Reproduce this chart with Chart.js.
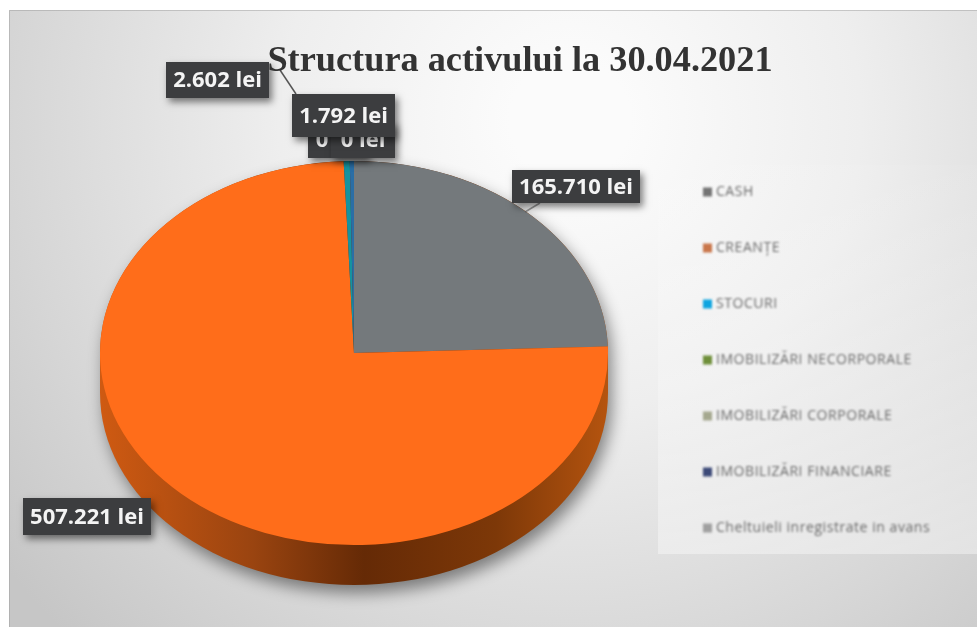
<!DOCTYPE html>
<html lang="ro">
<head>
<meta charset="utf-8">
<title>Structura activului</title>
<script src="https://cdn.jsdelivr.net/npm/chart.js@4"></script>
<style>
  html, body { margin: 0; padding: 0; background: #fff; overflow: hidden; }
  canvas { display: block; }
</style>
</head>
<body>
<canvas id="pieChart" width="977" height="627"></canvas>
<script>
const titleText = "Structura activului la 30.04.2021";
const categories = ["CASH", "CREANȚE", "STOCURI", "IMOBILIZĂRI NECORPORALE", "IMOBILIZĂRI CORPORALE", "IMOBILIZĂRI FINANCIARE", "Cheltuieli inregistrate in avans"];
const values = [165710, 507221, 2602, 0, 0, 1792, 0];
const sliceColors = ["#74797c", "#ff6d1a", "#15939f", "#6f8f3a", "#a5a88f", "#2a6ea6", "#9a9a9a"];
const legendColors = ["#747474", "#c9764a", "#0ea5e0", "#6f8f3a", "#a5a88f", "#3d4a78", "#a0a0a0"];

// y squash of the pie and thickness of the side wall
const squash = 0.756;
const depth = 40;

// label boxes in the order they are stacked
const labelBoxes = [
  { i: 3, x: 308, y: 122, w: 60, h: 36, blur: 0.6 },
  { i: 4, x: 331, y: 122, w: 64, h: 36, blur: 0.6 },
  { i: 5, x: 292, y: 94, w: 103, h: 43, blur: 0.6 },
  { i: 2, x: 166, y: 62, w: 103, h: 36, blur: 0 },
  { i: 0, x: 512, y: 170, w: 128, h: 33, blur: 0.6 },
  { i: 1, x: 23, y: 498, w: 128, h: 37, blur: 0.6 }
];

function formatLei(v) {
  return String(v).replace(/\B(?=(\d{3})+$)/g, ".") + " lei";
}

const backgroundPlugin = {
  id: "backgroundPlugin",
  beforeDraw(chart) {
    const ctx = chart.ctx;
    ctx.save();
    ctx.fillStyle = "#fff";
    ctx.fillRect(0, 0, 977, 627);
    const g = ctx.createRadialGradient(570, 120, 60, 570, 120, 720);
    g.addColorStop(0, "#fbfbfb");
    g.addColorStop(0.35, "#eeeeee");
    g.addColorStop(0.75, "#d6d6d6");
    g.addColorStop(1, "#c6c6c6");
    ctx.fillStyle = g;
    ctx.fillRect(9, 10, 968, 617);
    ctx.strokeStyle = "rgba(150,150,150,0.45)";
    ctx.beginPath();
    ctx.moveTo(9.5, 627);
    ctx.lineTo(9.5, 10.5);
    ctx.lineTo(977, 10.5);
    ctx.stroke();
    // legend panel, fades out towards the top
    const p = ctx.createLinearGradient(0, 165, 0, 554);
    p.addColorStop(0, "rgba(255,255,255,0.05)");
    p.addColorStop(1, "rgba(255,255,255,0.38)");
    ctx.fillStyle = p;
    ctx.fillRect(658, 165, 319, 389);
    ctx.restore();
  }
};

const piePlugin = {
  id: "piePlugin",
  beforeDatasetsDraw(chart) {
    const ctx = chart.ctx;
    const arc = chart.getDatasetMeta(0).data[0];
    const cx = arc.x, cy = arc.y, rx = arc.outerRadius, ry = rx * squash;
    // side wall with its shadow
    ctx.save();
    const g = ctx.createLinearGradient(cx - rx, 0, cx + rx, 0);
    g.addColorStop(0, "#cf5a12");
    g.addColorStop(0.3, "#9a4410");
    g.addColorStop(0.52, "#652a06");
    g.addColorStop(0.78, "#7d3808");
    g.addColorStop(1, "#b5540f");
    ctx.shadowColor = "rgba(0,0,0,0.45)";
    ctx.shadowBlur = 16;
    ctx.shadowOffsetY = 8;
    ctx.shadowOffsetX = 4;
    ctx.fillStyle = g;
    ctx.beginPath();
    ctx.ellipse(cx, cy + depth, rx, ry, 0, 0, Math.PI);
    ctx.lineTo(cx - rx, cy);
    ctx.ellipse(cx, cy, rx, ry, 0, Math.PI, 0);
    ctx.closePath();
    ctx.fill();
    ctx.restore();
    // squash the slices into an ellipse
    ctx.save();
    ctx.translate(0, cy);
    ctx.scale(1, squash);
    ctx.translate(0, -cy);
  },
  afterDatasetsDraw(chart) {
    chart.ctx.restore();
  }
};

const textPlugin = {
  id: "textPlugin",
  afterDraw(chart) {
    const ctx = chart.ctx;
    ctx.save();

    // legend
    ctx.filter = "blur(0.9px)";
    ctx.textBaseline = "middle";
    ctx.font = "14px 'Open Sans'";
    ctx.letterSpacing = "0.55px";
    categories.forEach((name, i) => {
      const y = 192 + i * 56;
      ctx.fillStyle = legendColors[i];
      ctx.fillRect(703, y - 4.5, 9, 9);
      ctx.fillStyle = "#6a6a6a";
      ctx.fillText(name, 716, y);
    });
    ctx.filter = "none";
    ctx.letterSpacing = "0px";

    // leader lines
    ctx.strokeStyle = "#555";
    ctx.lineWidth = 1.5;
    ctx.beginPath();
    ctx.moveTo(280, 70);
    ctx.lineTo(296, 94);
    ctx.stroke();
    ctx.strokeStyle = "rgba(90,90,90,0.6)";
    ctx.beginPath();
    ctx.moveTo(540, 203);
    ctx.lineTo(525, 212);
    ctx.stroke();

    // value labels
    ctx.textAlign = "center";
    ctx.font = "bold 22px 'Open Sans'";
    labelBoxes.forEach(b => {
      ctx.save();
      ctx.shadowColor = "rgba(0,0,0,0.5)";
      ctx.shadowBlur = 7;
      ctx.shadowOffsetX = 3;
      ctx.shadowOffsetY = 4;
      ctx.fillStyle = "#3c3d3f";
      ctx.fillRect(b.x, b.y, b.w, b.h);
      ctx.restore();
      ctx.filter = b.blur ? "blur(" + b.blur + "px)" : "none";
      ctx.fillStyle = "#f4f4f4";
      ctx.fillText(formatLei(values[b.i]), b.x + b.w / 2, b.y + b.h / 2 + 1);
      ctx.filter = "none";
    });

    // title
    ctx.fillStyle = "#333";
    ctx.font = "bold 36.3px 'Liberation Serif'";
    ctx.textAlign = "center";
    ctx.textBaseline = "alphabetic";
    ctx.fillText(titleText, 520, 71);
    ctx.restore();
  }
};

new Chart(document.getElementById("pieChart"), {
  type: "pie",
  data: {
    labels: categories,
    datasets: [{
      data: values,
      backgroundColor: sliceColors,
      borderWidth: 0,
      clip: false
    }]
  },
  options: {
    responsive: false,
    animation: false,
    radius: 254,
    layout: { padding: { left: 0, right: 269, top: 79, bottom: 0 } },
    plugins: {
      legend: { display: false },
      title: { display: false },
      tooltip: { enabled: false }
    }
  },
  plugins: [backgroundPlugin, piePlugin, textPlugin]
});
</script>
</body>
</html>
